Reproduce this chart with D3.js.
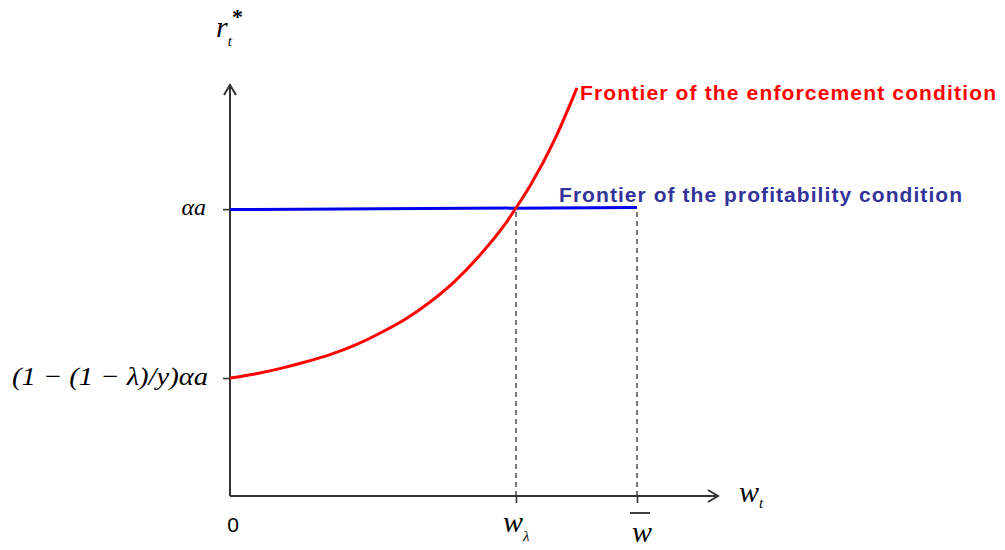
<!DOCTYPE html>
<html><head><meta charset="utf-8">
<script src="https://cdn.jsdelivr.net/npm/d3@7"></script>
<style>body{margin:0;background:#fff}svg{display:block}</style>
</head><body>
<svg id="c" width="1005" height="550"></svg>
<script>
// ---- data ----
const enforceX = [0, 5.1, 10.2, 15.4, 20.5, 25.6, 30.7, 35.9, 41.0, 46.1, 51.2, 56.4, 58.6, 61.5, 66.6, 71.1];
const enforceY = [28.7, 29.7, 31.0, 32.6, 34.4, 36.7, 39.6, 43.0, 47.2, 52.3, 58.6, 66.2, 70.1, 75.5, 86.9, 99.3];
const profitX = [0, 83.4];
const profitY = [69.7, 70.2];
const xTickValues = [58.6, 83.4];
const yTickValues = [28.7, 69.8];
const seriesLabels = ["Frontier of the enforcement condition", "Frontier of the profitability condition"];

const svg = d3.select("#c");
const x = d3.scaleLinear().domain([0, 100]).range([230, 718]);
const y = d3.scaleLinear().domain([0, 100]).range([496, 85]);
const axisColor = "#333";

// dashed guides
xTickValues.forEach(v => {
  svg.append("line").attr("x1", x(v)).attr("x2", x(v))
    .attr("y1", y(0)).attr("y2", y(d3.mean(profitY)))
    .attr("stroke", "#333").attr("stroke-width", 1.3).attr("stroke-dasharray", "5,4");
});

// axes
const gx = svg.append("g").attr("transform", `translate(0,${y(0)})`)
  .call(d3.axisBottom(x).tickValues(xTickValues).tickSize(7).tickFormat(""));
const gy = svg.append("g").attr("transform", `translate(${x(0)},0)`)
  .call(d3.axisLeft(y).tickValues(yTickValues).tickSize(7).tickFormat(""));
[gx, gy].forEach(g => {
  g.select(".domain").remove();
  g.selectAll(".tick line").attr("stroke", axisColor).attr("stroke-width", 1.6);
});
svg.append("line").attr("x1", x(0)).attr("x2", x(100)).attr("y1", y(0)).attr("y2", y(0))
  .attr("stroke", axisColor).attr("stroke-width", 2);
svg.append("line").attr("x1", x(0)).attr("x2", x(0)).attr("y1", y(0)).attr("y2", y(100))
  .attr("stroke", axisColor).attr("stroke-width", 2);
// arrowheads
svg.append("path").attr("d", `M${x(100)-10},${y(0)-6}L${x(100)},${y(0)}L${x(100)-10},${y(0)+6}`)
  .attr("fill", "none").attr("stroke", axisColor).attr("stroke-width", 2);
svg.append("path").attr("d", `M${x(0)-6},${y(100)+10}L${x(0)},${y(100)}L${x(0)+6},${y(100)+10}`)
  .attr("fill", "none").attr("stroke", axisColor).attr("stroke-width", 2);

// series
const straight = d3.line().x(d => x(d[0])).y(d => y(d[1]));
const smooth = d3.line().x(d => x(d[0])).y(d => y(d[1])).curve(d3.curveMonotoneX);
svg.append("path").datum(profitX.map((v, i) => [v, profitY[i]]))
  .attr("d", straight).attr("fill", "none").attr("stroke", "#0000ee").attr("stroke-width", 3);
svg.append("path").datum(enforceX.map((v, i) => [v, enforceY[i]]))
  .attr("d", smooth).attr("fill", "none").attr("stroke", "#ff0000").attr("stroke-width", 3);

// series labels
svg.append("text").attr("x", 580).attr("y", 100).attr("fill", "#ff0000")
  .attr("font-family", "Liberation Sans, Arial, sans-serif").attr("font-weight", "bold")
  .attr("font-size", 21).attr("textLength", 416).attr("lengthAdjust", "spacing").text(seriesLabels[0]);
svg.append("text").attr("x", 559).attr("y", 202).attr("fill", "#333399")
  .attr("font-family", "Liberation Sans, Arial, sans-serif").attr("font-weight", "bold")
  .attr("font-size", 21).attr("textLength", 403).attr("lengthAdjust", "spacing").text(seriesLabels[1]);

// math labels
const serif = "Liberation Serif, Times New Roman, serif";
function mtext(xp, yp, size, anchor) {
  return svg.append("text").attr("x", xp).attr("y", yp).attr("font-family", serif)
    .attr("font-style", "italic").attr("font-size", size).attr("text-anchor", anchor || "start").attr("fill", "#000");
}
// y tick labels
mtext(206, y(yTickValues[1]) + 6, 24, "end").text("αa");
mtext(12, y(yTickValues[0]) + 7, 26).attr("textLength", 196).attr("lengthAdjust", "spacingAndGlyphs")
  .text("(1 − (1 − λ)/y)αa");
// y axis title r_t^*
const ry = mtext(216, 37, 30);
ry.append("tspan").text("r");
ry.append("tspan").attr("font-size", 15).attr("dy", 9).attr("dx", 0).text("t");
svg.append("text").attr("x", 232).attr("y", 24).attr("font-family", serif).attr("font-size", 22).attr("font-weight", "bold").text("*");
// x tick labels
svg.append("text").attr("x", x(0) + 3).attr("y", 532).attr("text-anchor", "middle")
  .attr("font-family", "Liberation Sans, Arial, sans-serif").attr("font-size", 21).text("0");
const wl = mtext(503, 532, 30);
wl.append("tspan").text("w");
wl.append("tspan").attr("font-size", 15).attr("dy", 9).text("λ");
mtext(x(xTickValues[1]) + 5, 542, 30, "middle").text("w");
svg.append("line").attr("x1", 630).attr("x2", 650).attr("y1", 513).attr("y2", 513).attr("stroke", "#000").attr("stroke-width", 1.5);
// x axis title w_t
const wt = mtext(739, 502, 30);
wt.append("tspan").text("w");
wt.append("tspan").attr("font-size", 15).attr("dy", 6).text("t");
</script>
</body></html>
